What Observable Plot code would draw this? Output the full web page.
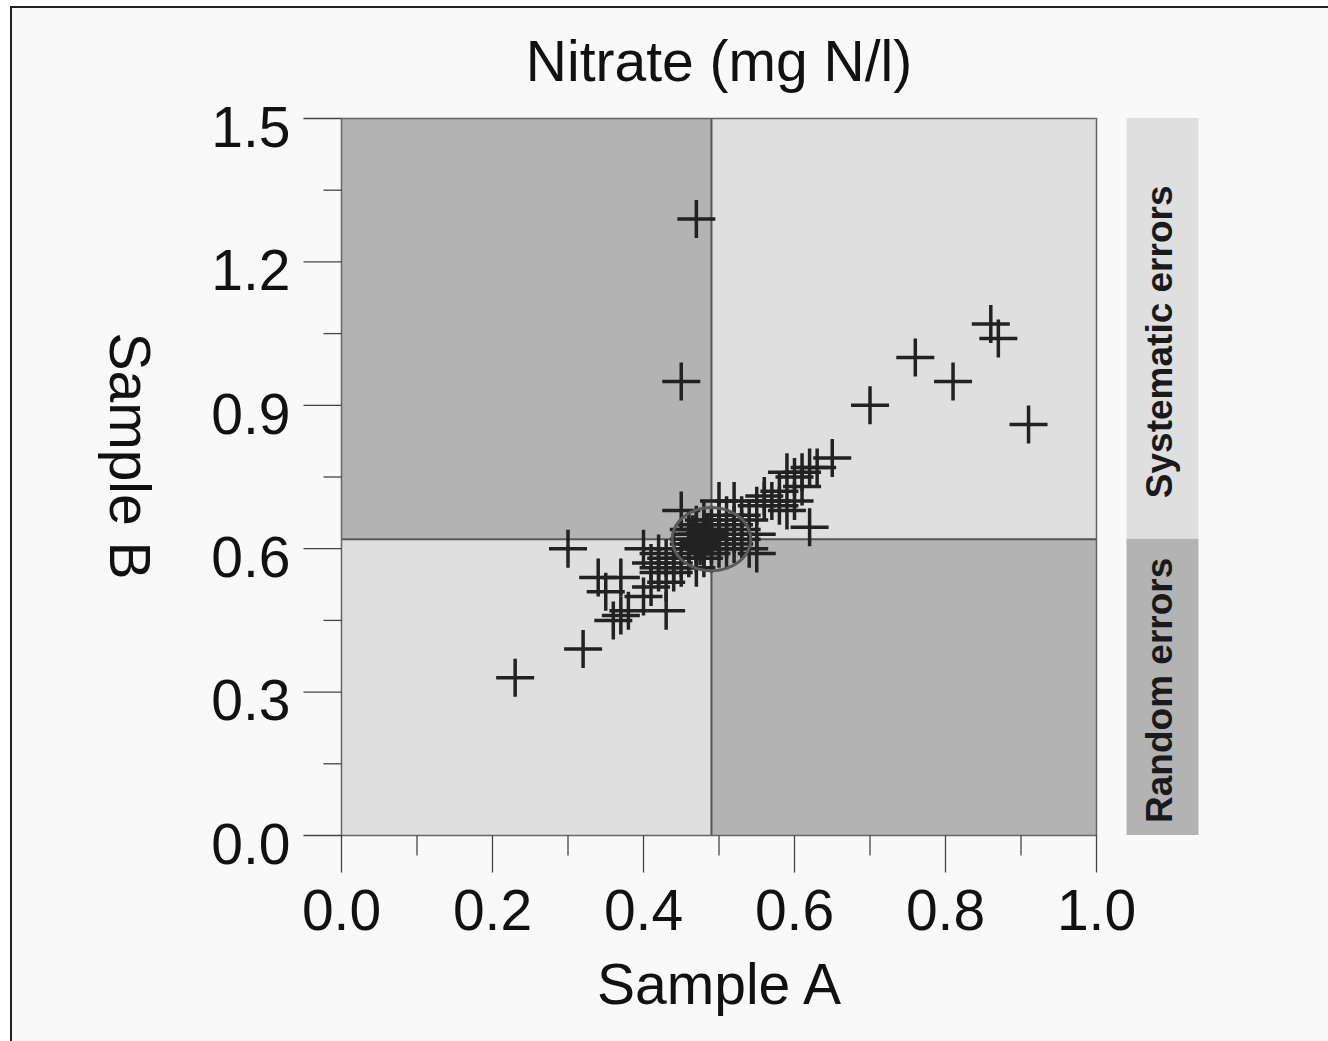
<!DOCTYPE html>
<html>
<head>
<meta charset="utf-8">
<script src="https://cdn.jsdelivr.net/npm/d3@7"></script>
<script src="https://cdn.jsdelivr.net/npm/@observablehq/plot@0.6"></script>
<style>
  html, body { margin: 0; padding: 0; background: #ffffff; width: 1328px; height: 1041px; overflow: hidden; }
  #frame { position: absolute; left: 10px; top: 6px; width: 1340px; height: 1060px;
           border-top: 2px solid #222; border-left: 2px solid #222; background: #f9f9f9; }
  #title { position: absolute; left: 719px; top: 33px; transform: translateX(-50%);
           font-family: "Liberation Sans", Arial, sans-serif; font-size: 57px; line-height: 57px;
           color: #111; white-space: nowrap; }
  #chart { position: absolute; left: 0; top: 100px; }
  #chart svg { overflow: visible; }
</style>
</head>
<body>
<div id="frame"></div>
<div id="title">Nitrate (mg N/l)</div>
<div id="chart"></div>
<script>
// ---- data ----
const xDomain = [0, 1.0];
const yDomain = [0, 1.5];
const xTicksMajor = [0, 0.2, 0.4, 0.6, 0.8, 1.0];
const xTicksMinor = [0.1, 0.3, 0.5, 0.7, 0.9];
const yTicksMajor = [0, 0.3, 0.6, 0.9, 1.2, 1.5];
const yTicksMinor = [0.15, 0.45, 0.75, 1.05, 1.35];
const splitX = 0.49;   // median Sample A
const splitY = 0.62;   // median Sample B
const ellipseCenter = [0.49, 0.62];
const ellipseRadii = [0.052, 0.066];
const legendLabels = ["Systematic errors", "Random errors"];
const legendColors = ["#dfdfdf", "#b3b3b3"];

const sampleA = [
  0.23, 0.32, 0.30, 0.47, 0.45, 0.70, 0.76, 0.81, 0.86, 0.87, 0.91,
  0.34, 0.37, 0.35, 0.36, 0.37, 0.38, 0.40, 0.41, 0.43, 0.40, 0.42, 0.42, 0.43, 0.44, 0.43, 0.44, 0.45, 0.41, 0.42, 0.45, 0.46, 0.44, 0.45, 0.47,
  0.46, 0.47, 0.47, 0.48, 0.48, 0.48, 0.49, 0.49, 0.50, 0.50, 0.47, 0.48, 0.49, 0.46, 0.50, 0.51, 0.51, 0.47, 0.48, 0.52, 0.52, 0.46, 0.49, 0.50, 0.53,
  0.47, 0.48, 0.48, 0.47, 0.475, 0.485, 0.46, 0.47, 0.48, 0.465, 0.475, 0.485,
  0.50, 0.52, 0.51, 0.53, 0.55, 0.56, 0.57, 0.58, 0.59, 0.60, 0.61, 0.59, 0.60, 0.62, 0.63, 0.65, 0.62, 0.55, 0.54, 0.53, 0.52, 0.54, 0.55, 0.56, 0.58, 0.61
];
const sampleB = [
  0.33, 0.39, 0.60, 1.29, 0.95, 0.90, 1.00, 0.95, 1.07, 1.04, 0.86,
  0.54, 0.54, 0.51, 0.45, 0.46, 0.47, 0.50, 0.52, 0.47, 0.60, 0.55, 0.56, 0.58, 0.55, 0.53, 0.57, 0.58, 0.57, 0.59, 0.68, 0.60, 0.60, 0.56, 0.56,
  0.62, 0.61, 0.63, 0.60, 0.62, 0.64, 0.61, 0.63, 0.62, 0.60, 0.59, 0.58, 0.65, 0.64, 0.64, 0.62, 0.60, 0.65, 0.66, 0.63, 0.61, 0.58, 0.59, 0.66, 0.62,
  0.62, 0.61, 0.63, 0.60, 0.615, 0.625, 0.61, 0.64, 0.59, 0.63, 0.605, 0.635,
  0.70, 0.70, 0.67, 0.67, 0.69, 0.71, 0.70, 0.69, 0.68, 0.70, 0.73, 0.76, 0.75, 0.77, 0.77, 0.79, 0.645, 0.59, 0.60, 0.64, 0.65, 0.66, 0.63, 0.70, 0.72, 0.76
];

// ---- derived tables ----
const points = sampleA.map((a, i) => ({a, b: sampleB[i]}));
const quadrants = [
  {x1: xDomain[0], x2: splitX, y1: splitY, y2: yDomain[1], fill: legendColors[1]},
  {x1: splitX, x2: xDomain[1], y1: splitY, y2: yDomain[1], fill: legendColors[0]},
  {x1: xDomain[0], x2: splitX, y1: yDomain[0], y2: splitY, fill: legendColors[0]},
  {x1: splitX, x2: xDomain[1], y1: yDomain[0], y2: splitY, fill: legendColors[1]}
];
const legend = [
  {label: legendLabels[0], y1: splitY, y2: yDomain[1], fill: legendColors[0]},
  {label: legendLabels[1], y1: yDomain[0], y2: splitY, fill: legendColors[1]}
];
const ellipse = d3.range(0, 361, 4).map(deg => {
  const t = deg * Math.PI / 180;
  return {x: ellipseCenter[0] + ellipseRadii[0] * Math.cos(t), y: ellipseCenter[1] + ellipseRadii[1] * Math.sin(t)};
});

// ---- custom symbols ----
const plusSym = {draw(ctx, size) { const r = Math.sqrt(size / Math.PI); ctx.moveTo(-r, 0); ctx.lineTo(r, 0); ctx.moveTo(0, -r); ctx.lineTo(0, r); }};
const tickLeft = {draw(ctx, size) { const r = Math.sqrt(size / Math.PI); ctx.moveTo(-r, 0); ctx.lineTo(0, 0); }};
const tickDown = {draw(ctx, size) { const r = Math.sqrt(size / Math.PI); ctx.moveTo(0, 0); ctx.lineTo(0, r); }};

const fmt = d3.format(".1f");
const font = "'Liberation Sans', Arial, sans-serif";

const chart = Plot.plot({
  width: 1328,
  height: 941,
  marginLeft: 341,
  marginRight: 232,
  marginTop: 18,
  marginBottom: 206,
  x: {domain: xDomain, axis: null},
  y: {domain: yDomain, axis: null},
  color: {type: "identity"},
  style: {background: "transparent", fontFamily: font, overflow: "visible"},
  marks: [
    Plot.rect(quadrants, {x1: "x1", x2: "x2", y1: "y1", y2: "y2", fill: "fill"}),
    Plot.ruleX([splitX], {stroke: "#555", strokeWidth: 2}),
    Plot.ruleY([splitY], {stroke: "#555", strokeWidth: 2}),
    Plot.frame({stroke: "#666", strokeWidth: 1.5}),
    // ticks
    Plot.dot(yTicksMajor, {y: d => d, x: () => xDomain[0], symbol: tickLeft, r: 38, fill: "none", stroke: "#444", strokeWidth: 1.3}),
    Plot.dot(yTicksMinor, {y: d => d, x: () => xDomain[0], symbol: tickLeft, r: 18, fill: "none", stroke: "#444", strokeWidth: 1.3}),
    Plot.dot(xTicksMajor, {x: d => d, y: () => yDomain[0], symbol: tickDown, r: 37, fill: "none", stroke: "#444", strokeWidth: 1.3}),
    Plot.dot(xTicksMinor, {x: d => d, y: () => yDomain[0], symbol: tickDown, r: 20, fill: "none", stroke: "#444", strokeWidth: 1.3}),
    // tick labels
    Plot.text(yTicksMajor, {y: d => d, frameAnchor: "left", text: d => fmt(d), textAnchor: "end", lineAnchor: "middle", dx: -51, dy: 10, fontSize: 57, fill: "#111"}),
    Plot.text(xTicksMajor, {x: d => d, frameAnchor: "bottom", text: d => fmt(d), textAnchor: "middle", lineAnchor: "middle", dy: 76, fontSize: 57, fill: "#111"}),
    // axis labels
    Plot.text(["Sample A"], {frameAnchor: "bottom", text: d => d, textAnchor: "middle", lineAnchor: "middle", dy: 150, fontSize: 57, fill: "#111"}),
    Plot.text(["Sample B"], {frameAnchor: "left", text: d => d, rotate: 90, textAnchor: "middle", lineAnchor: "middle", dx: -213, dy: -21, fontSize: 57, fill: "#111"}),
    // points
    Plot.dot(points, {x: "a", y: "b", symbol: plusSym, r: 19, fill: "none", stroke: "#222", strokeWidth: 3.5}),
    // confidence ellipse
    Plot.line(ellipse, {x: "x", y: "y", stroke: "#5a5a5a", strokeWidth: 3, curve: "linear-closed"}),
    // side legend
    Plot.ruleX(legend, {x: () => xDomain[1], y1: "y1", y2: "y2", stroke: "fill", strokeWidth: 72, dx: 66}),
    Plot.text(legend.slice(0, 1), {x: () => xDomain[1], y: d => (d.y1 + d.y2) / 2, text: "label", rotate: -90, textAnchor: "middle", lineAnchor: "middle", dx: 64, dy: 13, fontSize: 37, fontWeight: "bold", fill: "#1a1a1a"}),
    Plot.text(legend.slice(1), {x: () => xDomain[1], y: d => (d.y1 + d.y2) / 2, text: "label", rotate: -90, textAnchor: "middle", lineAnchor: "middle", dx: 64, dy: 3, fontSize: 37, fontWeight: "bold", fill: "#1a1a1a"})
  ]
});
document.getElementById("chart").appendChild(chart);
</script>
</body>
</html>
